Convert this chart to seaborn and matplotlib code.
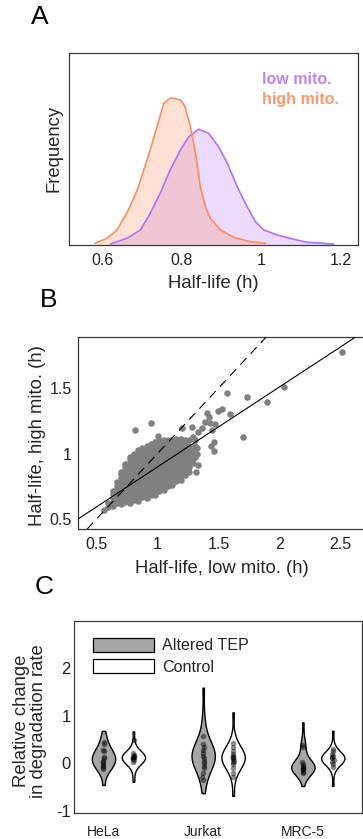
import numpy as np
import pandas as pd
import matplotlib
matplotlib.use("Agg")
import matplotlib.pyplot as plt
from matplotlib.patches import Patch
import seaborn as sns

# ---------------- Panel A: half-life distributions ----------------
low_x = [0.620, 0.662, 0.696, 0.721, 0.746, 0.771, 0.797, 0.818, 0.843, 0.868,
         0.893, 0.915, 0.940, 0.965, 0.986, 1.007, 1.041, 1.082, 1.116, 1.183]
low_d = [0.005, 0.035, 0.078, 0.165, 0.269, 0.390, 0.494, 0.563, 0.602, 0.581,
         0.511, 0.425, 0.303, 0.199, 0.121, 0.078, 0.052, 0.030, 0.014, 0.005]
high_x = [0.581, 0.612, 0.637, 0.662, 0.688, 0.713, 0.738, 0.755, 0.773, 0.797,
          0.809, 0.822, 0.835, 0.847, 0.860, 0.872, 0.898, 0.931, 0.973, 1.011]
high_d = [0.009, 0.035, 0.078, 0.165, 0.286, 0.442, 0.615, 0.737, 0.766, 0.754,
          0.719, 0.615, 0.477, 0.303, 0.199, 0.139, 0.078, 0.040, 0.017, 0.009]

# ---------------- Panel B: low vs high mito. half-lives ----------------
cloud_col_x = [0.560, 0.595, 0.630, 0.665, 0.700, 0.735, 0.770, 0.805, 0.840, 0.875, 0.910,
               0.945, 0.980, 1.015, 1.050, 1.085, 1.120, 1.155, 1.190, 1.225, 1.260, 1.290]
cloud_col_y = [
    [0.57],
    [0.59, 0.625],
    [0.60, 0.63, 0.66, 0.69, 0.71],
    [0.62, 0.65, 0.685, 0.72, 0.75, 0.785],
    [0.61, 0.645, 0.675, 0.71, 0.74, 0.775, 0.81, 0.84, 0.86],
    [0.63, 0.66, 0.695, 0.73, 0.76, 0.795, 0.83, 0.86, 0.895, 0.92],
    [0.62, 0.655, 0.685, 0.72, 0.75, 0.785, 0.82, 0.85, 0.885, 0.915, 0.95, 0.97],
    [0.645, 0.68, 0.71, 0.745, 0.78, 0.81, 0.845, 0.875, 0.91, 0.945, 0.975, 1.0],
    [0.64, 0.675, 0.705, 0.74, 0.77, 0.805, 0.84, 0.87, 0.905, 0.935, 0.97, 1.0, 1.03],
    [0.665, 0.70, 0.73, 0.765, 0.80, 0.83, 0.865, 0.895, 0.93, 0.965, 0.995, 1.03, 1.045],
    [0.66, 0.695, 0.725, 0.76, 0.79, 0.825, 0.86, 0.89, 0.925, 0.955, 0.99, 1.025, 1.06],
    [0.685, 0.72, 0.75, 0.785, 0.82, 0.85, 0.885, 0.915, 0.95, 0.985, 1.015, 1.05, 1.075],
    [0.685, 0.715, 0.75, 0.78, 0.815, 0.85, 0.88, 0.915, 0.945, 0.98, 1.01, 1.045, 1.085],
    [0.715, 0.745, 0.78, 0.815, 0.845, 0.88, 0.91, 0.945, 0.98, 1.01, 1.045, 1.075, 1.10],
    [0.72, 0.75, 0.785, 0.815, 0.85, 0.885, 0.915, 0.95, 0.98, 1.015, 1.05, 1.08, 1.10],
    [0.755, 0.79, 0.82, 0.855, 0.89, 0.92, 0.955, 0.985, 1.02, 1.05, 1.085, 1.105],
    [0.76, 0.79, 0.825, 0.855, 0.89, 0.92, 0.955, 0.99, 1.02, 1.055, 1.085, 1.105],
    [0.79, 0.825, 0.86, 0.89, 0.925, 0.955, 0.99, 1.02, 1.055, 1.09, 1.11],
    [0.795, 0.825, 0.86, 0.89, 0.925, 0.96, 0.99, 1.025, 1.055, 1.09, 1.108],
    [0.835, 0.87, 0.90, 0.935, 0.97, 1.0, 1.035, 1.07, 1.10],
    [0.86, 0.895, 0.925, 0.96, 0.99, 1.025, 1.06, 1.10],
    [0.925, 0.96, 0.995, 1.03],
]
sparse_x = [0.815, 0.946, 1.006, 1.20, 1.28, 1.29, 1.31, 1.31, 1.335, 1.32,
            1.363, 1.39, 1.431, 1.472, 1.445, 1.409, 1.423, 1.495, 1.532, 1.596,
            1.574, 1.738, 1.902, 2.04, 2.514, 1.70, 1.464, 1.44, 1.464, 1.327,
            1.308, 1.335, 1.316]
sparse_y = [1.183, 1.234, 1.137, 1.194, 1.20, 1.13, 1.10, 1.06, 1.163, 1.00,
            1.194, 1.24, 1.234, 1.227, 1.183, 1.309, 1.283, 1.329, 1.342, 1.303,
            1.462, 1.433, 1.393, 1.512, 1.775, 1.125, 1.087, 1.061, 1.023, 1.043,
            0.977, 0.916, 0.857]
fit_slope = 0.611
fit_intercept = 0.287

# ---------------- Panel C: relative change in degradation rate ----------------
cell_lines = ["HeLa", "Jurkat", "MRC-5"]
conditions = ["Altered TEP", "Control"]

hela_altered = [-0.46, -0.24, -0.17, -0.13, -0.10, -0.07, -0.04, -0.02, 0.00, 0.02,
                0.04, 0.06, 0.08, 0.10, 0.12, 0.14, 0.16, 0.18, 0.20, 0.22,
                0.25, 0.28, 0.31, 0.35, 0.42, 0.47, 0.55, 0.68]
hela_control = [-0.39, -0.20, -0.075, -0.035, -0.01, 0.01, 0.03, 0.045, 0.055, 0.07,
                0.08, 0.095, 0.105, 0.115, 0.125, 0.135, 0.145, 0.16, 0.17, 0.185,
                0.195, 0.21, 0.23, 0.25, 0.275, 0.315, 0.44, 0.67]
jurkat_altered = [-0.63, -0.45, -0.28, -0.19, -0.14, -0.09, -0.05, -0.02, 0.01, 0.04,
                  0.07, 0.09, 0.115, 0.14, 0.16, 0.185, 0.21, 0.235, 0.26, 0.29,
                  0.32, 0.35, 0.39, 0.44, 0.49, 0.58, 0.75, 1.00, 1.59]
jurkat_control = [-0.69, -0.35, -0.21, -0.145, -0.10, -0.065, -0.035, -0.01, 0.015, 0.035,
                  0.055, 0.075, 0.095, 0.11, 0.13, 0.145, 0.165, 0.185, 0.205, 0.225,
                  0.25, 0.275, 0.305, 0.34, 0.385, 0.45, 0.58, 1.07]
mrc5_altered = [-0.48, -0.285, -0.245, -0.22, -0.20, -0.18, -0.165, -0.15, -0.14, -0.13,
                -0.115, -0.105, -0.095, -0.085, -0.075, -0.065, -0.05, -0.04, -0.025, -0.015,
                0.00, 0.02, 0.04, 0.065, 0.105, 0.20, 0.33, 0.36, 0.39, 0.55, 0.86]
mrc5_control = [-0.48, -0.20, -0.09, -0.05, -0.025, -0.005, 0.015, 0.03, 0.04, 0.055,
                0.065, 0.08, 0.09, 0.10, 0.11, 0.12, 0.13, 0.145, 0.155, 0.17,
                0.18, 0.195, 0.215, 0.235, 0.26, 0.30, 0.40, 0.68]

hela_altered_dots = [0.45, 0.40, 0.27, 0.25, 0.12, 0.10, 0.05, 0.02, -0.02, -0.06, -0.08, -0.12]
hela_control_dots = [0.49, 0.22, 0.18, 0.16, 0.14, 0.12, 0.11, 0.10, 0.08, 0.06, 0.03]
jurkat_altered_dots = [0.57, 0.40, 0.35, 0.28, 0.22, 0.15, 0.10, 0.05, 0.00, -0.05, -0.10, -0.20, -0.30, -0.36]
jurkat_control_dots = [0.42, 0.35, 0.25, 0.20, 0.15, 0.12, 0.10, 0.08, 0.05, 0.02, -0.02, -0.10, -0.20, -0.30]
mrc5_altered_dots = [0.38, 0.34, 0.02, -0.02, -0.05, -0.08, -0.10, -0.12, -0.15, -0.18, -0.21]
mrc5_control_dots = [0.30, 0.25, 0.20, 0.15, 0.12, 0.10, 0.07, 0.03, -0.02, -0.08]

# ---------------- styling ----------------
sns.set_theme(style="white")
plt.rcParams["font.family"] = ["Liberation Sans", "DejaVu Sans"]
plt.rcParams["axes.unicode_minus"] = False

W, H = 363, 839
fig = plt.figure(figsize=(W / 100, H / 100), dpi=100)

spine_color = "#3a3a3a"
tick_fs = 11.5
label_fs = 13.3
purple = "#b46eff"
orange = "#ff8c5a"


def style_box(ax):
    for s in ax.spines.values():
        s.set_visible(True)
        s.set_color(spine_color)
        s.set_linewidth(0.9)
    ax.tick_params(length=0, labelsize=tick_fs, colors="#222222")


# ---- Panel A ----
axA = fig.add_axes([69.3 / W, 1 - 245 / H, 289 / W, 192.3 / H])
dfA = pd.concat([
    pd.DataFrame({"half_life": low_x, "density": low_d, "group": "low mito."}),
    pd.DataFrame({"half_life": high_x, "density": high_d, "group": "high mito."}),
], ignore_index=True)
palA = {"low mito.": purple, "high mito.": orange}
for grp in ["low mito.", "high mito."]:
    sub = dfA[dfA["group"] == grp]
    axA.fill_between(sub["half_life"], sub["density"], color=palA[grp], alpha=0.25, lw=0)
sns.lineplot(data=dfA, x="half_life", y="density", hue="group", palette=palA,
             sort=False, estimator=None, legend=False, lw=1.2, ax=axA)
axA.set_xlim(0.517, 1.245)
axA.set_ylim(0, 1)
axA.set_xticks([0.6, 0.8, 1.0, 1.2])
axA.set_xticklabels(["0.6", "0.8", "1", "1.2"])
axA.set_yticks([])
style_box(axA)
axA.tick_params(axis="x", pad=5.5)
axA.set_xlabel("Half-life (h)", fontsize=label_fs)
axA.set_ylabel("Frequency", fontsize=label_fs)
axA.xaxis.set_label_coords(0.5, -0.155)
axA.yaxis.set_label_coords(-0.025, 0.5)
axA.text(1.003, 0.863, "low mito.", color="#be82ff", fontsize=11.5, fontweight="bold",
         va="center", ha="left")
axA.text(1.003, 0.759, "high mito.", color="#ff966e", fontsize=11.5, fontweight="bold",
         va="center", ha="left")

# ---- Panel B ----
axB = fig.add_axes([77.7 / W, 1 - 529.3 / H, 286.8 / W, 192 / H])
pts_x = [x for x, col in zip(cloud_col_x, cloud_col_y) for _ in col] + sparse_x
pts_y = [y for col in cloud_col_y for y in col] + sparse_y
dfB = pd.DataFrame({"low": pts_x, "high": pts_y})
sns.scatterplot(data=dfB, x="low", y="high", color="#808080", s=22, linewidth=0,
                alpha=1, ax=axB, zorder=2)
axB.axline((0, 0), slope=1, color="black", lw=0.8, ls=(0, (8, 5.5)), zorder=3)
axB.axline((0, fit_intercept), slope=fit_slope, color="black", lw=0.8, zorder=3)
axB.set_xlim(0.344, 2.70)
axB.set_ylim(0.42, 1.89)
axB.set_xticks([0.5, 1, 1.5, 2, 2.5])
axB.set_xticklabels(["0.5", "1", "1.5", "2", "2.5"])
axB.set_yticks([0.5, 1, 1.5])
axB.set_yticklabels(["0.5", "1", "1.5"])
style_box(axB)
axB.tick_params(axis="x", pad=5.5)
axB.tick_params(axis="y", pad=4.3)
axB.set_xlabel("Half-life, low mito. (h)", fontsize=label_fs)
axB.set_ylabel("Half-life, high mito. (h)", fontsize=label_fs)
axB.xaxis.set_label_coords(0.503, -0.159)
axB.yaxis.set_label_coords(-0.109, 0.487)

# ---- Panel C ----
axC = fig.add_axes([74 / W, 1 - 813.3 / H, 287.7 / W, 192.6 / H])
violin_sets = {
    ("HeLa", "Altered TEP"): hela_altered, ("HeLa", "Control"): hela_control,
    ("Jurkat", "Altered TEP"): jurkat_altered, ("Jurkat", "Control"): jurkat_control,
    ("MRC-5", "Altered TEP"): mrc5_altered, ("MRC-5", "Control"): mrc5_control,
}
dot_sets = {
    ("HeLa", "Altered TEP"): hela_altered_dots, ("HeLa", "Control"): hela_control_dots,
    ("Jurkat", "Altered TEP"): jurkat_altered_dots, ("Jurkat", "Control"): jurkat_control_dots,
    ("MRC-5", "Altered TEP"): mrc5_altered_dots, ("MRC-5", "Control"): mrc5_control_dots,
}
offset = {"Altered TEP": 0.0, "Control": 0.3}


def long_frame(sets):
    rows = []
    for (cell, cond), vals in sets.items():
        pos = cell_lines.index(cell) + offset[cond]
        rows += [{"pos": pos, "cond": cond, "value": v} for v in vals]
    return pd.DataFrame(rows)


dfV = long_frame(violin_sets)
dfD = long_frame(dot_sets)
palC = {"Altered TEP": "#a6a6a6", "Control": "white"}
sns.violinplot(data=dfV, x="pos", y="value", hue="cond", palette=palC, native_scale=True,
               dodge=False, cut=0, density_norm="width", width=0.78, inner=None,
               bw_adjust=1.0, gridsize=300,
               linecolor="black", linewidth=1.0, saturation=1, legend=False, ax=axC)
np.random.seed(3)
sns.stripplot(data=dfD, x="pos", y="value", native_scale=True, color="black", alpha=0.45,
              size=4.0, jitter=0.03, linewidth=0, ax=axC, zorder=4)
axC.set_xlim(-0.296, 2.59)
axC.set_ylim(-1.055, 3.0)
axC.set_xticks([0, 1, 2])
axC.set_xticklabels(cell_lines)
axC.set_yticks([-1, 0, 1, 2])
axC.set_yticklabels(["-1", "0", "1", "2"])
style_box(axC)
axC.tick_params(axis="x", labelsize=10, pad=8.5)
axC.tick_params(axis="y", labelsize=11.9, pad=2.5)
axC.set_xlabel("")
axC.set_ylabel("Relative change\nin degradation rate", fontsize=label_fs, linespacing=1.0)
axC.yaxis.set_label_coords(-0.094, 0.48)
handles = [Patch(facecolor=palC[c], edgecolor="black", linewidth=0.9, label=c) for c in conditions]
axC.legend(handles=handles, loc="upper left", bbox_to_anchor=(0.065, 0.912), frameon=False,
           fontsize=11.6, handlelength=3.8, handleheight=0.97, handletextpad=0.5,
           labelspacing=0.38, borderpad=0, borderaxespad=0)

# ---- panel letters ----
for letter, x, y in [("A", 31, 17.5), ("B", 40, 300), ("C", 35, 587)]:
    fig.text(x / W, 1 - y / H, letter, fontsize=19, ha="left", va="center", color="black")

fig.savefig("out.png", dpi=100)
